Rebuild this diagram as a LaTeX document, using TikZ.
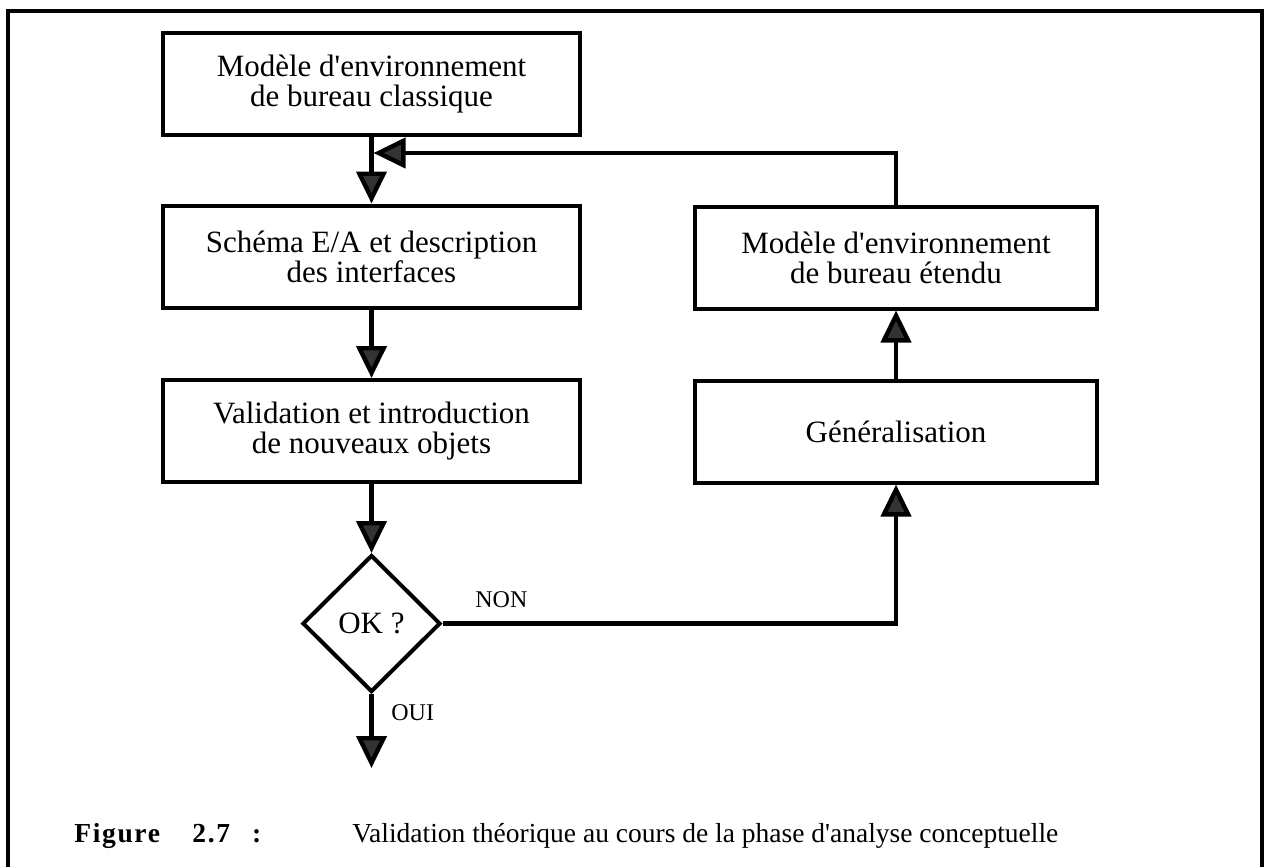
\documentclass[tikz,border=0pt]{standalone}
\usepackage{fontspec}
\setmainfont{Liberation Serif}
\usetikzlibrary{arrows.meta,shapes.geometric}

\begin{document}
\begin{tikzpicture}[x=0.5pt,y=-0.5pt,
  stepbox/.style={draw, line width=2pt, minimum width=208.5pt, minimum height=51pt,
    inner sep=0pt, align=center, font=\fontsize{15.5}{15}\selectfont},
  widebox/.style={stepbox, minimum width=201pt},
  test/.style={draw, diamond, line width=2pt, minimum width=69pt, minimum height=68.5pt,
    inner sep=0pt, font=\fontsize{15.5}{15}\selectfont},
  flow/.style={line width=2.2pt, -{Triangle[length=16pt,width=15pt,fill=black!80]}},
  tag/.style={anchor=base west, inner sep=0pt, font=\fontsize{12}{12}\selectfont},
  captext/.style={anchor=base west, inner sep=0pt, font=\fontsize{13.75}{13.75}\selectfont},
  capbold/.style={captext, font=\fontsize{13.75}{13.75}\selectfont\bfseries\addfontfeatures{LetterSpace=6}},
]
\useasboundingbox (0,0) rectangle (1267,867);

% open frame around the figure
\draw[line width=2pt] (8,867) -- (8,11) -- (1262,11) -- (1262,867);

% process steps
\node[stepbox] (b1) at (371.5,84)    {Modèle d\textquotesingle environnement\\de bureau classique};
\node[stepbox] (b2) at (371.5,256.5) {Schéma E/A et description\\des interfaces};
\node[stepbox] (b3) at (371.5,431)   {Validation et introduction\\de nouveaux objets};
\node[widebox] (r1) at (896,257.5)   {Modèle d\textquotesingle environnement\\de bureau étendu};
\node[widebox] (r2) at (896,431.5)   {Généralisation};
\node[test]    (ok) at (371.5,623.5) {OK ?};

\coordinate (out)  at (371.5,768);
\coordinate (join) at (373.5,153);

% flow
\draw[flow] (b1) -- (b2);
\draw[flow] (b2) -- (b3);
\draw[flow] (b3) -- (ok);
\draw[flow] (ok) -- (out);
\draw[flow] (ok.east) -| (r2.south);
\draw[flow] (r2) -- (r1);
\draw[flow] (r1.north) |- (join);

\node[tag] (non) at (475,607) {NON};
\node[tag] (oui) at (391,720) {OUI};

% caption
\node[capbold] (fig) at (74,842)  {Figure};
\node[capbold] (num) at (192,842) {2.7\hspace{11pt}:};
\node[captext] (cap) at (352,842) {Validation théorique au cours de la phase d\textquotesingle analyse conceptuelle};
\end{tikzpicture}
\end{document}
